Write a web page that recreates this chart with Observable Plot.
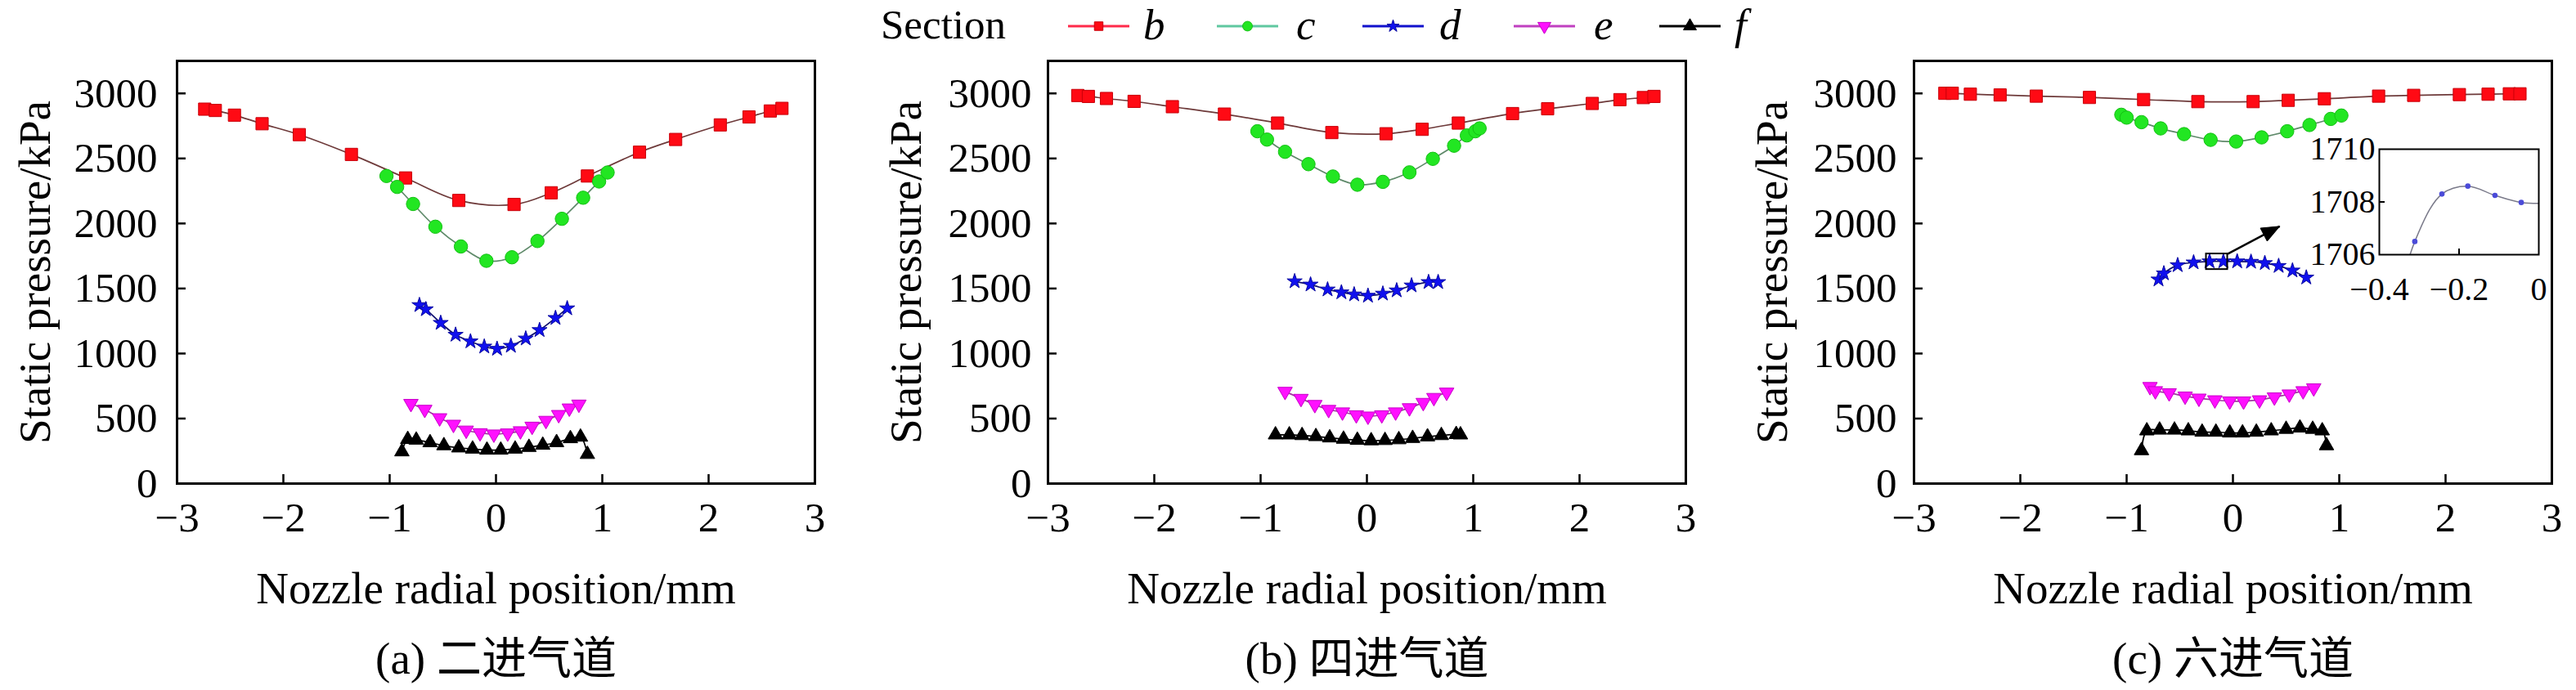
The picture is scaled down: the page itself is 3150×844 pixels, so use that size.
<!DOCTYPE html>
<html>
<head>
<meta charset="utf-8">
<script src="https://cdn.jsdelivr.net/npm/d3@7"></script>
<script src="https://cdn.jsdelivr.net/npm/@observablehq/plot@0.6"></script>
<style>
  html, body { margin: 0; padding: 0; background: #fff; }
  #wrap { position: relative; width: 3150px; height: 844px; overflow: hidden; background: #fff;
          font-family: "Liberation Serif", "Times New Roman", "Noto Sans CJK SC", serif; }
  .abs { position: absolute; top: 0; }
  svg { overflow: visible; }
</style>
</head>
<body>
<div id="wrap"></div>
<script>
// ---------- tick labels / categories ----------
const xTicks = [-3, -2, -1, 0, 1, 2, 3];
const yTicks = [0, 500, 1000, 1500, 2000, 2500, 3000];
const sections = ["b", "c", "d", "e", "f"];
const captions = ["(a) 二进气道", "(b) 四进气道", "(c) 六进气道"];
const xLabel = "Nozzle radial position/mm";
const yLabel = "Static pressure/kPa";

// ---------- panel (a) 二进气道 ----------
const aBx = [-2.74, -2.64, -2.46, -2.20, -1.85, -1.36, -0.85, -0.35, 0.17, 0.52, 0.86, 1.35, 1.69, 2.11, 2.38, 2.58, 2.69];
const aBy = [2879, 2869, 2833, 2767, 2683, 2531, 2350, 2177, 2146, 2236, 2365, 2548, 2646, 2758, 2819, 2865, 2885];
const aCx = [-1.03, -0.93, -0.78, -0.57, -0.33, -0.09, 0.15, 0.39, 0.62, 0.82, 0.97, 1.05];
const aCy = [2365, 2281, 2150, 1975, 1823, 1713, 1740, 1865, 2036, 2198, 2323, 2392];
const aDx = [-0.72, -0.66, -0.52, -0.38, -0.24, -0.11, 0.01, 0.14, 0.28, 0.41, 0.56, 0.67];
const aDy = [1372, 1340, 1235, 1144, 1093, 1053, 1036, 1059, 1115, 1180, 1273, 1347];
const aEx = [-0.80, -0.67, -0.53, -0.40, -0.28, -0.15, -0.02, 0.11, 0.23, 0.34, 0.47, 0.59, 0.69, 0.78];
const aEy = [615, 570, 505, 455, 410, 390, 380, 388, 405, 440, 485, 530, 580, 610];
const aFx = [-0.885, -0.83, -0.75, -0.62, -0.49, -0.35, -0.22, -0.085, 0.045, 0.18, 0.31, 0.44, 0.57, 0.70, 0.795, 0.86];
const aFy = [245, 340, 335, 315, 292, 275, 266, 258, 258, 266, 279, 296, 316, 346, 358, 225];

// ---------- panel (b) 四进气道 ----------
const bBx = [-2.72, -2.62, -2.45, -2.19, -1.83, -1.34, -0.84, -0.33, 0.18, 0.52, 0.86, 1.37, 1.70, 2.12, 2.38, 2.60, 2.70];
const bBy = [2984, 2977, 2961, 2939, 2898, 2841, 2772, 2699, 2690, 2724, 2772, 2845, 2882, 2923, 2952, 2968, 2977];
const bCx = [-1.03, -0.94, -0.77, -0.55, -0.32, -0.09, 0.15, 0.40, 0.62, 0.82, 0.94, 1.02, 1.06];
const bCy = [2709, 2645, 2551, 2456, 2361, 2298, 2320, 2393, 2497, 2598, 2677, 2709, 2731];
const bDx = [-0.68, -0.53, -0.37, -0.24, -0.12, 0.01, 0.15, 0.28, 0.42, 0.58, 0.67];
const bDy = [1555, 1530, 1492, 1470, 1454, 1444, 1460, 1485, 1523, 1549, 1549];
const bEx = [-0.77, -0.62, -0.49, -0.36, -0.23, -0.10, 0.01, 0.14, 0.27, 0.40, 0.53, 0.63, 0.75];
const bEy = [708, 654, 607, 569, 550, 528, 518, 528, 550, 582, 623, 661, 702];
const bFx = [-0.86, -0.73, -0.61, -0.48, -0.35, -0.22, -0.09, 0.04, 0.17, 0.30, 0.43, 0.57, 0.70, 0.84, 0.88];
const bFy = [375, 375, 370, 362, 352, 342, 334, 330, 332, 338, 348, 360, 370, 378, 375];

// ---------- panel (c) 六进气道 ----------
const cBx = [-2.71, -2.64, -2.47, -2.19, -1.85, -1.35, -0.84, -0.33, 0.19, 0.52, 0.86, 1.37, 1.70, 2.13, 2.40, 2.60, 2.70];
const cBy = [3001, 3001, 2994, 2988, 2979, 2969, 2953, 2937, 2937, 2947, 2959, 2979, 2985, 2991, 2994, 2997, 2997];
const cCx = [-1.05, -1.00, -0.86, -0.68, -0.46, -0.21, 0.03, 0.27, 0.51, 0.72, 0.92, 1.02];
const cCy = [2836, 2814, 2779, 2731, 2687, 2643, 2630, 2662, 2709, 2757, 2804, 2830];
const cDx = [-0.70, -0.65, -0.52, -0.37, -0.22, -0.09, 0.04, 0.17, 0.30, 0.43, 0.56, 0.69];
const cDy = [1569, 1616, 1679, 1700, 1708, 1708, 1708, 1705, 1695, 1673, 1638, 1584];
const cEx = [-0.78, -0.73, -0.60, -0.45, -0.32, -0.17, -0.03, 0.10, 0.25, 0.39, 0.53, 0.66, 0.76];
const cEy = [745, 713, 697, 672, 656, 643, 634, 634, 643, 665, 688, 713, 735];
const cFx = [-0.86, -0.81, -0.69, -0.55, -0.42, -0.29, -0.16, -0.03, 0.09, 0.22, 0.36, 0.50, 0.63, 0.75, 0.84, 0.88];
const cFy = [254, 406, 412, 412, 406, 396, 396, 390, 390, 396, 406, 418, 428, 418, 406, 292];

// ---------- inset of panel (c), section d ----------
const insetX = [-0.375, -0.311, -0.243, -0.178, -0.110, -0.044, 0.022];
const insetY = [1703.0, 1706.5, 1708.3, 1708.6, 1708.25, 1707.98, 1707.95];
const insetXTicks = [-0.4, -0.2, 0];
const insetYTicks = [1706, 1708, 1710];
const zoomBox = {x1: -0.25, x2: -0.05, y1: 1646, y2: 1766};
const zoomArrow = {x1: -0.05, y1: 1766, x2: 0.44, y2: 1978};

// ---------- styles ----------
const sqrt3 = Math.sqrt(3);
const triangleDown = {
  draw(context, size) {
    const y = -Math.sqrt(size / (sqrt3 * 3));
    context.moveTo(0, -y * 2);
    context.lineTo(-sqrt3 * y, y);
    context.lineTo(sqrt3 * y, y);
    context.closePath();
  }
};
// filled arrow head: tip at the origin, pointing up-right along the arrow's on-screen direction
const headAngle = Math.atan2(-33.5, 64);
const arrowHead = {
  draw(context) {
    const L = 22, w = 9, c = Math.cos(headAngle), s = Math.sin(headAngle);
    const bx = -L * c, by = -L * s;
    context.moveTo(0, 0);
    context.lineTo(bx - w * s, by + w * c);
    context.lineTo(bx + w * s, by - w * c);
    context.closePath();
  }
};
const seriesStyle = {
  b: {symbol: "square",   r: 8.5, fill: "#ff0a14", stroke: "#c8000a", line: "#6e3a3a", legendLine: "#ff2a4a"},
  c: {symbol: "circle",   r: 8.2, fill: "#22e622", stroke: "#14c014", line: "#5f8a6a", legendLine: "#5fc8a0"},
  d: {symbol: "star",     r: 5.8, fill: "#1010ee", stroke: "#0a0aa0", line: "#101070", legendLine: "#1010cc"},
  e: {symbol: triangleDown, r: 6.6, fill: "#ff10ff", stroke: "#c800c8", line: "#a03aa0", legendLine: "#c040c0"},
  f: {symbol: "triangle", r: 6.6, fill: "#000000", stroke: "#000000", line: "#000000", legendLine: "#000000"}
};

function rows(xs, ys) { return xs.map((x, i) => ({x, y: ys[i]})); }
const fmtX = d => (d < 0 ? "\u2212" + Math.abs(d) : String(d));
const fmtY = d => String(d);

const panelData = [
  {b: rows(aBx, aBy), c: rows(aCx, aCy), d: rows(aDx, aDy), e: rows(aEx, aEy), f: rows(aFx, aFy)},
  {b: rows(bBx, bBy), c: rows(bCx, bCy), d: rows(bDx, bDy), e: rows(bEx, bEy), f: rows(bFx, bFy)},
  {b: rows(cBx, cBy), c: rows(cCx, cCy), d: rows(cDx, cDy), e: rows(cEx, cEy), f: rows(cFx, cFy)}
];
const layout = [
  {left: 0,    marginLeft: 216, width: 1026, yPad: 24},
  {left: 1050, marginLeft: 231, width: 1041, yPad: 20},
  {left: 2100, marginLeft: 240, width: 1050, yPad: 21}
];

const wrap = document.getElementById("wrap");
const FONT = "Liberation Serif, Times New Roman, Noto Sans CJK SC, serif";

panelData.forEach((data, p) => {
  const L = layout[p];
  const marks = [];
  for (const s of sections) {
    const st = seriesStyle[s];
    marks.push(Plot.line(data[s], {x: "x", y: "y", stroke: st.line, strokeWidth: 1.7, curve: "catmull-rom"}));
  }
  for (const s of sections) {
    const st = seriesStyle[s];
    marks.push(Plot.dot(data[s], {x: "x", y: "y", symbol: st.symbol, r: st.r, fill: st.fill, stroke: st.stroke, strokeWidth: 1}));
  }
  if (p === 2) {
    marks.push(Plot.rect([zoomBox], {x1: "x1", x2: "x2", y1: "y1", y2: "y2", fill: "none", stroke: "#000", strokeWidth: 2}));
    marks.push(Plot.link([zoomArrow], {x1: "x1", y1: "y1", x2: "x2", y2: "y2", stroke: "#000", strokeWidth: 2.5}));
    marks.push(Plot.dot([zoomArrow], {x: "x2", y: "y2", symbol: arrowHead, r: 6, fill: "#000", stroke: "#000", strokeWidth: 1}));
  }
  marks.push(
    Plot.frame({stroke: "#000", strokeWidth: 3}),
    Plot.axisX(xTicks, {anchor: "bottom", tickSize: 0, tickPadding: 22, tickFormat: fmtX, label: null, fontSize: 51}),
    Plot.axisX(xTicks.slice(1, -1), {anchor: "bottom", tickSize: 11, dy: -11, strokeWidth: 2.5, tickFormat: () => "", label: null}),
    Plot.axisY(yTicks, {anchor: "left", tickSize: 0, tickPadding: L.yPad, tickFormat: fmtY, label: null, fontSize: 51}),
    Plot.axisY(yTicks.slice(1), {anchor: "left", tickSize: 11, dx: 11, strokeWidth: 2.5, tickFormat: () => "", label: null}),
    Plot.text([yLabel], {frameAnchor: "left", textAnchor: "middle", lineAnchor: "middle", dx: -173, rotate: -90, text: d => d, fontSize: 55, fill: "#000"}),
    Plot.text([xLabel], {frameAnchor: "bottom", textAnchor: "middle", lineAnchor: "middle", dy: 129, text: d => d, fontSize: 55, fill: "#000"}),
    Plot.text([captions[p]], {frameAnchor: "bottom", textAnchor: "middle", lineAnchor: "middle", dy: 215, text: d => d, fontSize: 55, fill: "#000"})
  );
  const chart = Plot.plot({
    width: L.width,
    height: 844,
    marginLeft: L.marginLeft,
    marginRight: L.width - L.marginLeft - 780,
    marginTop: 74,
    marginBottom: 253,
    x: {domain: [-3, 3]},
    y: {domain: [0, 3250]},
    style: {fontFamily: FONT, fontSize: "51px", color: "#000", background: "transparent", overflow: "visible"},
    marks
  });
  chart.classList.add("abs");
  chart.style.left = L.left + "px";
  wrap.appendChild(chart);
});

// ---------- inset ----------
const inset = Plot.plot({
  width: 305,
  height: 199,
  marginLeft: 90,
  marginRight: 20,
  marginTop: 10,
  marginBottom: 60,
  x: {domain: [-0.4, 0]},
  y: {domain: [1706, 1710]},
  style: {fontFamily: FONT, fontSize: "40px", color: "#000", background: "transparent", overflow: "visible"},
  marks: [
    Plot.line(rows(insetX, insetY), {x: "x", y: "y", stroke: "#7a7a8a", strokeWidth: 1.5, curve: "catmull-rom", clip: true}),
    Plot.dot(rows(insetX, insetY), {x: "x", y: "y", r: 3.3, fill: "#4b4bd8", clip: true}),
    Plot.frame({stroke: "#000", strokeWidth: 2}),
    Plot.axisX(insetXTicks, {anchor: "bottom", tickSize: 0, tickPadding: 27, tickFormat: fmtX, label: null, fontSize: 40}),
    Plot.axisX([-0.2], {anchor: "bottom", tickSize: 7, dy: -7, strokeWidth: 2, tickFormat: () => "", label: null}),
    Plot.axisY(insetYTicks, {anchor: "left", tickSize: 0, tickPadding: 5, tickFormat: fmtY, label: null, fontSize: 40}),
    Plot.axisY([1708], {anchor: "left", tickSize: 7, dx: 7, strokeWidth: 2, tickFormat: () => "", label: null})
  ]
});
inset.classList.add("abs");
inset.style.left = "2819px";
inset.style.top = "172px";
wrap.appendChild(inset);

// ---------- legend (above the panels) ----------
const legendPos = {
  b: {x1: 1306, x2: 1381, lx: 1398},
  c: {x1: 1488, x2: 1563, lx: 1585},
  d: {x1: 1666, x2: 1741, lx: 1760},
  e: {x1: 1851, x2: 1926, lx: 1949},
  f: {x1: 2029, x2: 2104, lx: 2121}
};
const leg = d3.create("svg").attr("width", 3150).attr("height", 70)
  .attr("class", "abs").style("left", "0px").style("overflow", "visible");
leg.append("text").attr("x", 1077).attr("y", 47).attr("font-family", FONT).attr("font-size", 51).text("Section");
for (const s of sections) {
  const st = seriesStyle[s], pos = legendPos[s];
  leg.append("line").attr("x1", pos.x1).attr("x2", pos.x2).attr("y1", 32).attr("y2", 32)
    .attr("stroke", st.legendLine).attr("stroke-width", 3);
  const symType = typeof st.symbol === "string"
    ? {square: d3.symbolSquare, circle: d3.symbolCircle, star: d3.symbolStar, triangle: d3.symbolTriangle}[st.symbol]
    : st.symbol;
  leg.append("path").attr("transform", `translate(${(pos.x1 + pos.x2) / 2},32)`)
    .attr("d", d3.symbol(symType, s === "d" ? 70 : 110)())
    .attr("fill", st.fill).attr("stroke", st.stroke).attr("stroke-width", 1);
  leg.append("text").attr("x", pos.lx).attr("y", 48).attr("font-family", FONT).attr("font-size", 53)
    .attr("font-style", "italic").text(s);
}
wrap.appendChild(leg.node());
</script>
</body>
</html>
